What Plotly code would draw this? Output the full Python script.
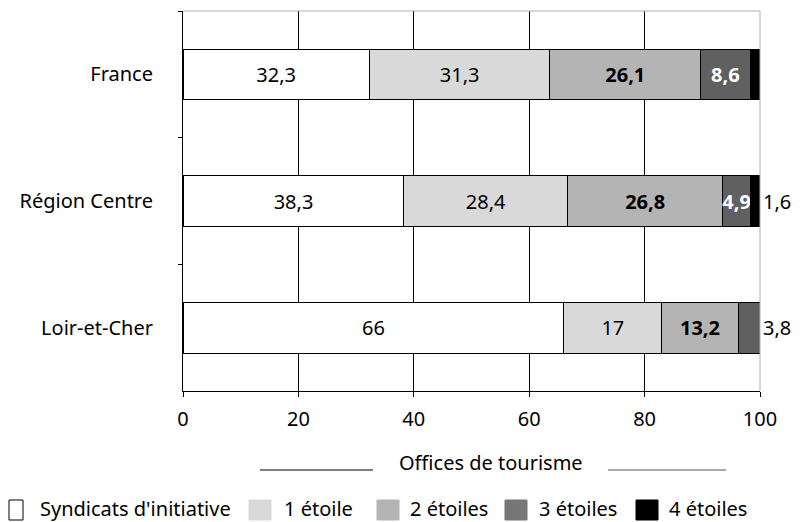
import plotly.graph_objects as go

categories = ["France", "Région Centre", "Loir-et-Cher"]
series_names = ["Syndicats d'initiative", "1 étoile", "2 étoiles", "3 étoiles", "4 étoiles"]
syndicats = [32.3, 38.3, 66.0]
etoile1 = [31.3, 28.4, 17.0]
etoile2 = [26.1, 26.8, 13.2]
etoile3 = [8.6, 4.9, 3.8]
etoile4 = [1.8, 1.6, None]
x_ticks = [0, 20, 40, 60, 80, 100]
group_title = "Offices de tourisme"

FONT = "Noto Sans"
FS = 20

# the page body adds an 8px offset; layout numbers below are in screen pixels
OFF = 8
ML, MR, MT, MB = 183 - OFF, 50, 11 - OFF, 139
PW, PH = 802 - ML - MR, 522 - MT - MB


def px_x(p):
    return (p - OFF - ML) / PW


def px_y(p):
    return (522 - MB - (p - OFF)) / PH


def fmt(v):
    return "" if v is None else f"{v:g}".replace(".", ",")


colors = ["#ffffff", "#d9d9d9", "#b4b4b4", "#606060", "#000000"]
legend_colors = ["#ffffff", "#d9d9d9", "#b4b4b4", "#777777", "#000000"]
legend_lines = ["#000000", "#d9d9d9", "#b4b4b4", "#777777", "#000000"]
series = [syndicats, etoile1, etoile2, etoile3, etoile4]
inside_fonts = [
    dict(color="black", size=FS, family=FONT),
    dict(color="black", size=FS, family=FONT),
    dict(color="black", size=FS, family=FONT, weight="bold"),
    dict(color="white", size=FS, family=FONT, weight="bold"),
    dict(color="black", size=FS, family=FONT),
]

fig = go.Figure()
for i, (name, vals) in enumerate(zip(series_names, series)):
    if i == 4:
        pos = ["outside", "outside", "none"]
    elif i == 3:
        pos = ["inside", "inside", "outside"]
    else:
        pos = ["inside"] * 3
    fig.add_trace(go.Bar(
        name=name, y=categories, x=vals, orientation="h", width=0.4,
        marker=dict(color=colors[i], line=dict(color="black", width=1)),
        text=[fmt(v) for v in vals], textposition=pos, textangle=0,
        insidetextanchor="middle",
        insidetextfont=inside_fonts[i],
        outsidetextfont=dict(color="black", size=FS, family=FONT),
        cliponaxis=False, hoverinfo="skip", showlegend=False,
    ))

# legend drawn as swatches + labels (screen pixel layout)
sw_x = [(9, 23), (249, 271), (377, 399), (505, 527), (636, 658)]
txt_x = [38, 282, 408, 537, 667]
txt_y = [508, 508, 508, 508, 508]
shapes = [
    dict(type="line", xref="paper", yref="paper", x0=0, x1=1, y0=1, y1=1,
         line=dict(color="#b0b0b0", width=1), layer="above"),
    dict(type="line", xref="paper", yref="paper", x0=1, x1=1, y0=0, y1=1,
         line=dict(color="#b0b0b0", width=1), layer="above"),
    dict(type="line", xref="paper", yref="paper", x0=px_x(260), x1=px_x(373),
         y0=px_y(470), y1=px_y(470), line=dict(color="black", width=1)),
    dict(type="line", xref="paper", yref="paper", x0=px_x(608), x1=px_x(726),
         y0=px_y(470), y1=px_y(470), line=dict(color="#555555", width=1)),
]
annotations = [
    dict(text=group_title, xref="paper", yref="paper", x=px_x(491),
         y=px_y(462), xanchor="center", yanchor="middle", showarrow=False,
         font=dict(size=FS, family=FONT, color="black")),
]
for i, name in enumerate(series_names):
    x0, x1 = sw_x[i]
    shapes.append(dict(type="rect", xref="paper", yref="paper",
                       x0=px_x(x0), x1=px_x(x1), y0=px_y(520), y1=px_y(500),
                       fillcolor=legend_colors[i],
                       line=dict(color=legend_lines[i], width=1)))
    annotations.append(dict(text=name, xref="paper", yref="paper",
                            x=px_x(txt_x[i]), y=px_y(txt_y[i]),
                            xanchor="left", yanchor="middle", showarrow=False,
                            font=dict(size=FS, family=FONT, color="black")))

fig.update_layout(
    width=802, height=522,
    margin=dict(l=ML, r=MR, t=MT, b=MB),
    barmode="stack",
    plot_bgcolor="white", paper_bgcolor="white",
    font=dict(family=FONT, size=FS, color="black"),
    uniformtext=dict(minsize=FS, mode="show"),
    showlegend=False,
    xaxis=dict(range=[0, 100], tickvals=x_ticks, ticktext=[str(t) for t in x_ticks],
               showgrid=True, gridcolor="black", gridwidth=1, zeroline=False,
               showline=True, linecolor="black", linewidth=1, automargin=False,
               ticks="outside", ticklen=5, tickcolor="black", ticklabelstandoff=5),
    yaxis=dict(type="category", categoryorder="array", categoryarray=categories,
               range=[2.5, -0.5], showgrid=False, zeroline=False, automargin=False,
               showline=True, linecolor="black", linewidth=1,
               ticks="outside", ticklen=4, tickcolor="black", tickson="boundaries",
               ticklabelstandoff=25),
    shapes=shapes,
    annotations=annotations,
)

fig.write_html("out.html")
